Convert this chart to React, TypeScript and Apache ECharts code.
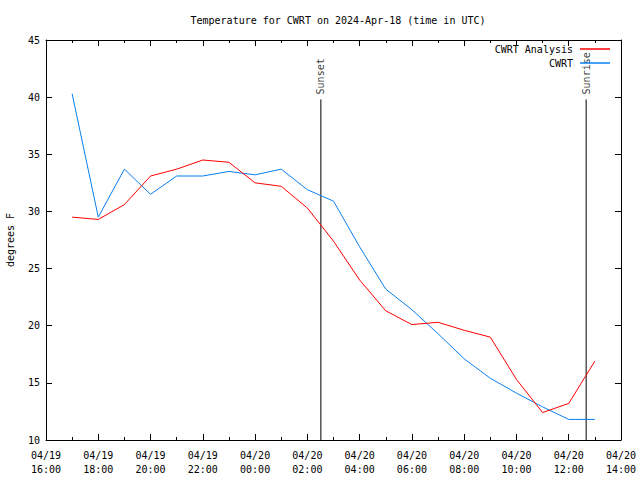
import React, { useEffect, useRef } from "react";
import * as echarts from "echarts";

const times = [
  "2024-04-19T17:00:00Z", "2024-04-19T18:00:00Z", "2024-04-19T19:00:00Z", "2024-04-19T20:00:00Z",
  "2024-04-19T21:00:00Z", "2024-04-19T22:00:00Z", "2024-04-19T23:00:00Z", "2024-04-20T00:00:00Z",
  "2024-04-20T01:00:00Z", "2024-04-20T02:00:00Z", "2024-04-20T03:00:00Z", "2024-04-20T04:00:00Z",
  "2024-04-20T05:00:00Z", "2024-04-20T06:00:00Z", "2024-04-20T07:00:00Z", "2024-04-20T08:00:00Z",
  "2024-04-20T09:00:00Z", "2024-04-20T10:00:00Z", "2024-04-20T11:00:00Z", "2024-04-20T12:00:00Z",
  "2024-04-20T13:00:00Z",
];
const analysis = [29.5, 29.3, 30.6, 33.1, 33.7, 34.5, 34.3, 32.5, 32.2, 30.3, 27.4, 24.0, 21.3, 20.1, 20.3, 19.6, 19.0, 15.3, 12.4, 13.2, 16.9];
const cwrt = [40.3, 29.5, 33.7, 31.5, 33.1, 33.1, 33.5, 33.2, 33.7, 31.9, 30.9, 26.9, 23.2, 21.4, 19.3, 17.1, 15.4, 14.1, 12.9, 11.8, 11.8];

const sunEvents = [
  { name: "Sunset", time: "2024-04-20T02:31:00Z" },
  { name: "Sunrise", time: "2024-04-20T12:40:00Z" },
];
const sunLineTop = 39.8;
const xMin = "2024-04-19T16:00:00Z";
const xMax = "2024-04-20T14:00:00Z";
const yMin = 10;
const yMax = 45;
const yStep = 5;
const titleText = "Temperature for CWRT on 2024-Apr-18 (time in UTC)";
const yName = "degrees F";

const FONT = "DejaVu Sans Mono";
const FS = 10;
const HOUR = 3600000;

function pad(n: number) {
  return n < 10 ? "0" + n : "" + n;
}
function fmt(v: number) {
  const d = new Date(v);
  return pad(d.getUTCMonth() + 1) + "/" + pad(d.getUTCDate()) + "\n" + pad(d.getUTCHours()) + ":" + pad(d.getUTCMinutes());
}

export default function App() {
  const ref = useRef<HTMLDivElement>(null);
  useEffect(() => {
    if (!ref.current) return;
    const chart = echarts.init(ref.current, null, { renderer: "svg" });
    const t = times.map((s) => Date.parse(s));
    const xAxisBase = {
      type: "value",
      min: Date.parse(xMin),
      max: Date.parse(xMax),
      interval: 2 * HOUR,
      axisLine: { show: true, lineStyle: { color: "#000", width: 1 } },
      axisTick: { show: true, inside: true, length: 6, lineStyle: { color: "#000" } },
      minorTick: { show: true, splitNumber: 2, length: 3, lineStyle: { color: "#000" } },
      splitLine: { show: false },
    };
    const yAxisBase = {
      type: "value",
      min: yMin,
      max: yMax,
      interval: yStep,
      axisLine: { show: true, lineStyle: { color: "#000", width: 1 } },
      axisTick: { show: true, inside: true, length: 6, lineStyle: { color: "#000" } },
      splitLine: { show: false },
    };
    const sunSeries: any[] = [];
    sunEvents.forEach((ev) => {
      const tv = Date.parse(ev.time);
      sunSeries.push({
        name: ev.name + " line",
        type: "line",
        data: [[tv, yMin], [tv, sunLineTop]],
        symbol: "none",
        lineStyle: { color: "#000", width: 1 },
        silent: true,
        z: 1,
      });
      sunSeries.push({
        name: ev.name + " label",
        type: "scatter",
        data: [[tv, sunLineTop]],
        symbolSize: 0,
        silent: true,
        label: {
          show: true,
          formatter: ev.name,
          position: "top",
          distance: 5,
          rotate: 90,
          align: "left",
          verticalAlign: "middle",
          color: "#000",
          fontFamily: FONT,
          fontSize: FS,
        },
      });
    });
    chart.setOption({
      animation: false,
      backgroundColor: "#fff",
      textStyle: { fontFamily: FONT },
      title: {
        text: titleText,
        left: 333,
        textAlign: "center",
        top: 10,
        textStyle: { fontFamily: FONT, fontSize: FS, fontWeight: "normal", color: "#000" },
      },
      grid: { left: 46, right: 19, top: 40, bottom: 40, show: false, outerBoundsMode: "none", containLabel: false },
      legend: {
        data: [
          { name: "CWRT Analysis", icon: "rect" },
          { name: "CWRT", icon: "rect" },
        ],
        orient: "vertical",
        right: 30,
        top: 43,
        align: "right",
        itemWidth: 30,
        itemHeight: 1.5,
        itemGap: 2,
        textStyle: { fontFamily: FONT, fontSize: FS, color: "#000", lineHeight: 12, padding: [0, 2, 0, 0] },
        padding: 0,
        selectedMode: false,
      },
      xAxis: [
        {
          ...xAxisBase,
          position: "bottom",
          axisLabel: {
            formatter: fmt,
            color: "#000",
            fontFamily: FONT,
            fontSize: FS,
            lineHeight: 14,
            margin: 8,
          },
        },
        {
          ...xAxisBase,
          position: "top",
          axisLabel: { show: false },
        },
      ],
      yAxis: [
        {
          ...yAxisBase,
          position: "left",
          name: yName,
          nameLocation: "middle",
          nameRotate: 90,
          nameGap: 31,
          nameTextStyle: { color: "#000", fontFamily: FONT, fontSize: FS },
          axisLabel: { color: "#000", fontFamily: FONT, fontSize: FS, margin: 6 },
        },
        {
          ...yAxisBase,
          position: "right",
          axisLabel: { show: false },
        },
      ],
      series: [
        {
          name: "CWRT Analysis",
          type: "line",
          data: t.map((v, i) => [v, analysis[i]]),
          symbol: "none",
          lineStyle: { color: "#ff0000", width: 1 },
          itemStyle: { color: "#ff0000" },
          z: 3,
        },
        {
          name: "CWRT",
          type: "line",
          data: t.map((v, i) => [v, cwrt[i]]),
          symbol: "none",
          lineStyle: { color: "#0a7ff0", width: 1 },
          itemStyle: { color: "#0a7ff0" },
          z: 2,
        },
        ...sunSeries,
      ],
    });
    return () => chart.dispose();
  }, []);
  return (
    <div
      ref={ref}
      style={{ position: "fixed", left: 0, top: 0, width: 640, height: 480 }}
    />
  );
}
